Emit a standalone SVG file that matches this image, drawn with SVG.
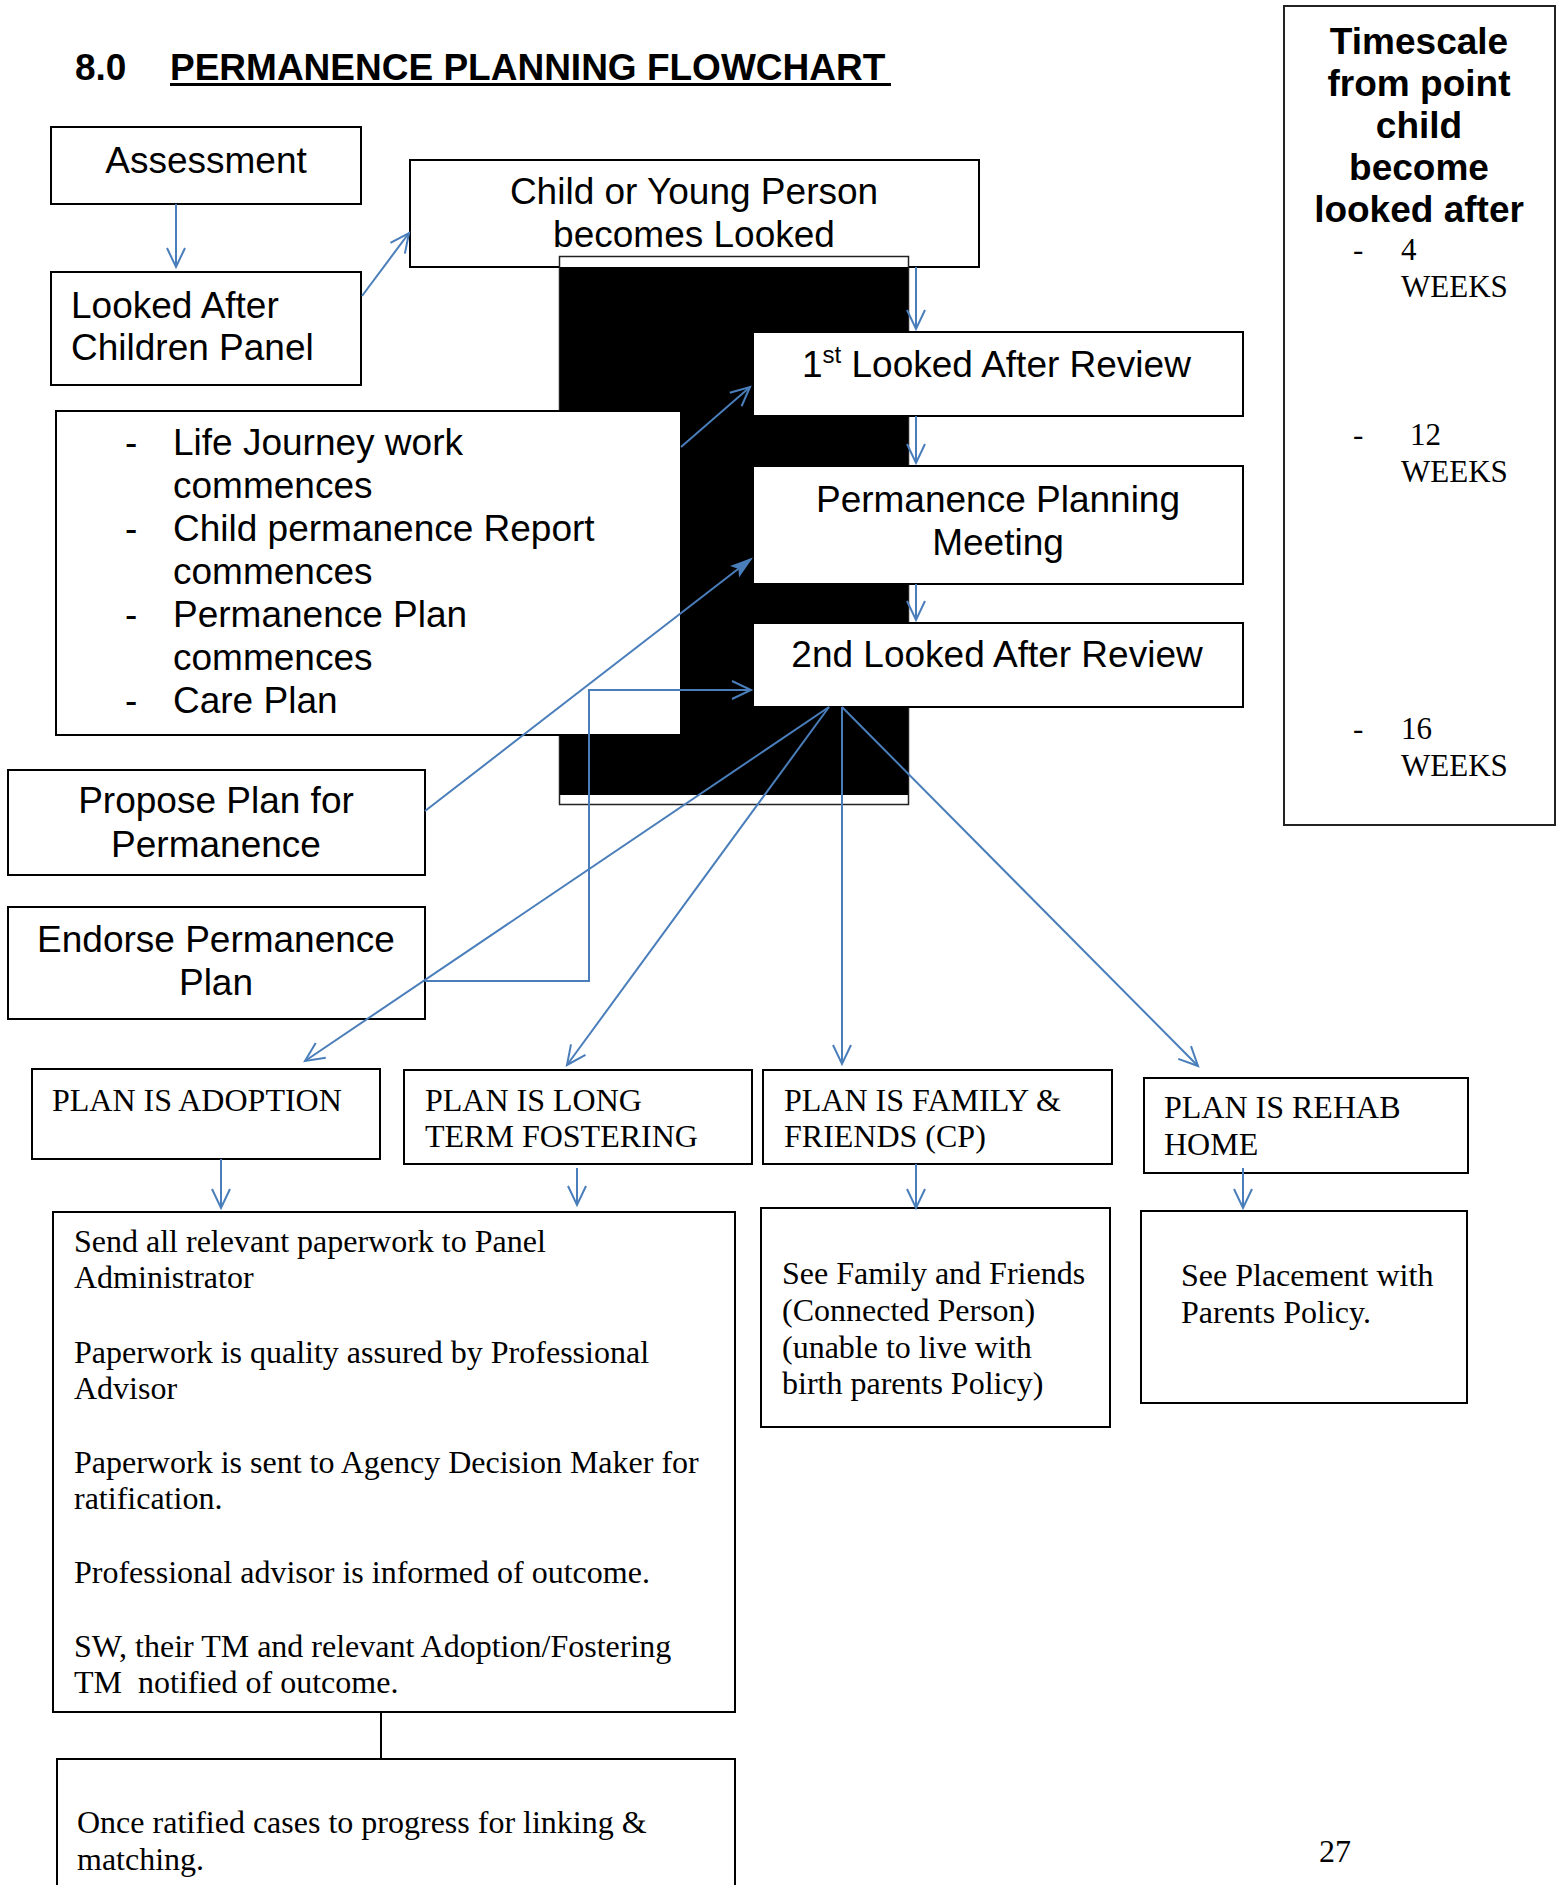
<svg xmlns="http://www.w3.org/2000/svg" width="1557" height="1885" viewBox="0 0 1557 1885">
<style>
.box{fill:#fff;stroke:#000;stroke-width:2}
.sans{font-family:"Liberation Sans",Arial,sans-serif;font-size:37px;fill:#000}
.bold{font-family:"Liberation Sans",Arial,sans-serif;font-size:37px;font-weight:bold;fill:#000}
.serif{font-family:"Liberation Serif","Times New Roman",serif;font-size:32px;fill:#000}
.ts{font-family:"Liberation Serif","Times New Roman",serif;font-size:31px;fill:#000}
.mid{text-anchor:middle}
.con{fill:none;stroke:#4A7EBB;stroke-width:2}
</style>
<defs>
<marker id="ah" markerUnits="userSpaceOnUse" markerWidth="26" markerHeight="24" refX="21" refY="11" orient="auto" overflow="visible">
<path d="M2,2 L21,11 L2,20" fill="none" stroke="#4A7EBB" stroke-width="2"/>
</marker>
<marker id="ahf" markerUnits="userSpaceOnUse" markerWidth="26" markerHeight="24" refX="21" refY="11" orient="auto" overflow="visible">
<path d="M2,5 L21,11 L2,17 L6,11 Z" fill="#4A7EBB" stroke="#4A7EBB" stroke-width="1.5"/>
</marker>
</defs>
<rect width="1557" height="1885" fill="#fff"/>

<g id="title">
<text class="bold" x="75" y="80">8.0</text>
<text class="bold" x="170" y="80">PERMANENCE PLANNING FLOWCHART</text>
<line x1="170" y1="84.5" x2="891" y2="84.5" stroke="#000" stroke-width="3"/>
</g>

<g id="assessment">
<rect class="box" x="51" y="127" width="310" height="77"/>
<text class="sans mid" x="206" y="173">Assessment</text>
</g>

<g id="lac-panel">
<rect class="box" x="51" y="272" width="310" height="113"/>
<text class="sans" x="71" y="318">Looked After</text>
<text class="sans" x="71" y="360">Children Panel</text>
</g>

<g id="child-looked">
<rect class="box" x="410" y="160" width="569" height="107"/>
<text class="sans mid" x="694" y="204">Child or Young Person</text>
<text class="sans mid" x="694" y="247">becomes Looked</text>
</g>

<g id="black-block">
<rect x="559.5" y="256.5" width="349" height="548" fill="#fff" stroke="#222" stroke-width="1.5"/>
<rect x="560" y="267" width="348" height="528" fill="#000"/>
</g>

<g id="review1">
<rect class="box" x="753" y="332" width="490" height="84"/>
<text class="sans" x="802" y="377">1<tspan font-size="24" dy="-14">st</tspan><tspan dy="14"> Looked After Review</tspan></text>
</g>

<g id="ppm">
<rect class="box" x="753" y="466" width="490" height="118"/>
<text class="sans mid" x="998" y="512">Permanence Planning</text>
<text class="sans mid" x="998" y="555">Meeting</text>
</g>

<g id="review2">
<rect class="box" x="753" y="623" width="490" height="84"/>
<text class="sans mid" x="997" y="667">2nd Looked After Review</text>
</g>

<g id="life-journey">
<rect class="box" x="56" y="411" width="625" height="324"/>
<text class="sans" x="125" y="455">-</text><text class="sans" x="173" y="455">Life Journey work</text>
<text class="sans" x="173" y="498">commences</text>
<text class="sans" x="125" y="541">-</text><text class="sans" x="173" y="541">Child permanence Report</text>
<text class="sans" x="173" y="584">commences</text>
<text class="sans" x="125" y="627">-</text><text class="sans" x="173" y="627">Permanence Plan</text>
<text class="sans" x="173" y="670">commences</text>
<text class="sans" x="125" y="713">-</text><text class="sans" x="173" y="713">Care Plan</text>
</g>

<g id="propose">
<rect class="box" x="8" y="770" width="417" height="105"/>
<text class="sans mid" x="216" y="813">Propose Plan for</text>
<text class="sans mid" x="216" y="857">Permanence</text>
</g>

<g id="endorse">
<rect class="box" x="8" y="907" width="417" height="112"/>
<text class="sans mid" x="216" y="952">Endorse Permanence</text>
<text class="sans mid" x="216" y="995">Plan</text>
</g>

<g id="timescale">
<rect x="1284" y="6" width="271" height="819" fill="#fff" stroke="#222" stroke-width="2"/>
<text class="bold mid" x="1419" y="54">Timescale</text>
<text class="bold mid" x="1419" y="96">from point</text>
<text class="bold mid" x="1419" y="138">child</text>
<text class="bold mid" x="1419" y="180">become</text>
<text class="bold mid" x="1419" y="222">looked after</text>
<text class="ts" x="1353" y="260">-</text><text class="ts" x="1401" y="260">4</text>
<text class="ts" x="1401" y="297">WEEKS</text>
<text class="ts" x="1353" y="445">-</text><text class="ts" x="1410" y="445">12</text>
<text class="ts" x="1401" y="482">WEEKS</text>
<text class="ts" x="1353" y="739">-</text><text class="ts" x="1401" y="739">16</text>
<text class="ts" x="1401" y="776">WEEKS</text>
</g>

<g id="plan-adoption">
<rect class="box" x="32" y="1069" width="348" height="90"/>
<text class="serif" x="52" y="1111">PLAN IS ADOPTION</text>
</g>

<g id="plan-ltf">
<rect class="box" x="404" y="1070" width="348" height="94"/>
<text class="serif" x="425" y="1111">PLAN IS LONG</text>
<text class="serif" x="425" y="1147">TERM FOSTERING</text>
</g>

<g id="plan-family">
<rect class="box" x="763" y="1070" width="349" height="94"/>
<text class="serif" x="784" y="1111">PLAN IS FAMILY &amp;</text>
<text class="serif" x="784" y="1147">FRIENDS (CP)</text>
</g>

<g id="plan-rehab">
<rect class="box" x="1144" y="1078" width="324" height="95"/>
<text class="serif" x="1164" y="1118">PLAN IS REHAB</text>
<text class="serif" x="1164" y="1155">HOME</text>
</g>

<g id="adoption-steps">
<rect class="box" x="53" y="1212" width="682" height="500"/>
<text class="serif" x="74" y="1252">Send all relevant paperwork to Panel</text>
<text class="serif" x="74" y="1288">Administrator</text>
<text class="serif" x="74" y="1363">Paperwork is quality assured by Professional</text>
<text class="serif" x="74" y="1399">Advisor</text>
<text class="serif" x="74" y="1473">Paperwork is sent to Agency Decision Maker for</text>
<text class="serif" x="74" y="1509">ratification.</text>
<text class="serif" x="74" y="1583">Professional advisor is informed of outcome.</text>
<text class="serif" x="74" y="1657">SW, their TM and relevant Adoption/Fostering</text>
<text class="serif" x="74" y="1693" xml:space="preserve">TM  notified of outcome.</text>
</g>

<g id="family-policy">
<rect class="box" x="761" y="1208" width="349" height="219"/>
<text class="serif" x="782" y="1284">See Family and Friends</text>
<text class="serif" x="782" y="1321">(Connected Person)</text>
<text class="serif" x="782" y="1358">(unable to live with</text>
<text class="serif" x="782" y="1394">birth parents Policy)</text>
</g>

<g id="rehab-policy">
<rect class="box" x="1141" y="1211" width="326" height="192"/>
<text class="serif" x="1181" y="1286">See Placement with</text>
<text class="serif" x="1181" y="1323">Parents Policy.</text>
</g>

<g id="linking">
<rect class="box" x="57" y="1759" width="678" height="140"/>
<text class="serif" x="77" y="1833">Once ratified cases to progress for linking &amp;</text>
<text class="serif" x="77" y="1870">matching.</text>
</g>

<g id="page-number">
<text class="serif" x="1319" y="1862">27</text>
</g>

<g id="connectors">
<line class="con" x1="176" y1="204" x2="176" y2="267" marker-end="url(#ah)"/>
<line class="con" x1="362" y1="296" x2="409" y2="233" marker-end="url(#ah)"/>
<line class="con" x1="916" y1="267" x2="916" y2="329" marker-end="url(#ah)"/>
<line class="con" x1="916" y1="416" x2="916" y2="463" marker-end="url(#ah)"/>
<line class="con" x1="916" y1="584" x2="916" y2="620" marker-end="url(#ah)"/>
<line class="con" x1="681" y1="447" x2="750" y2="387" marker-end="url(#ah)"/>
<line class="con" x1="425" y1="811" x2="751" y2="559" marker-end="url(#ahf)"/>
<polyline class="con" stroke-width="3" points="425,981 589,981 589,690 751,690" marker-end="url(#ah)"/>
<line class="con" x1="829" y1="707" x2="305" y2="1061" marker-end="url(#ah)"/>
<line class="con" x1="829" y1="707" x2="567" y2="1065" marker-end="url(#ah)"/>
<line class="con" x1="842" y1="707" x2="842" y2="1064" marker-end="url(#ah)"/>
<line class="con" x1="842" y1="707" x2="1198" y2="1066" marker-end="url(#ah)"/>
<line class="con" x1="221" y1="1159" x2="221" y2="1208" marker-end="url(#ah)"/>
<line class="con" x1="577" y1="1168" x2="577" y2="1205" marker-end="url(#ah)"/>
<line class="con" x1="916" y1="1164" x2="916" y2="1208" marker-end="url(#ah)"/>
<line class="con" x1="1243" y1="1168" x2="1243" y2="1208" marker-end="url(#ah)"/>
<line x1="381" y1="1712" x2="381" y2="1759" stroke="#000" stroke-width="2"/>
</g>
</svg>
